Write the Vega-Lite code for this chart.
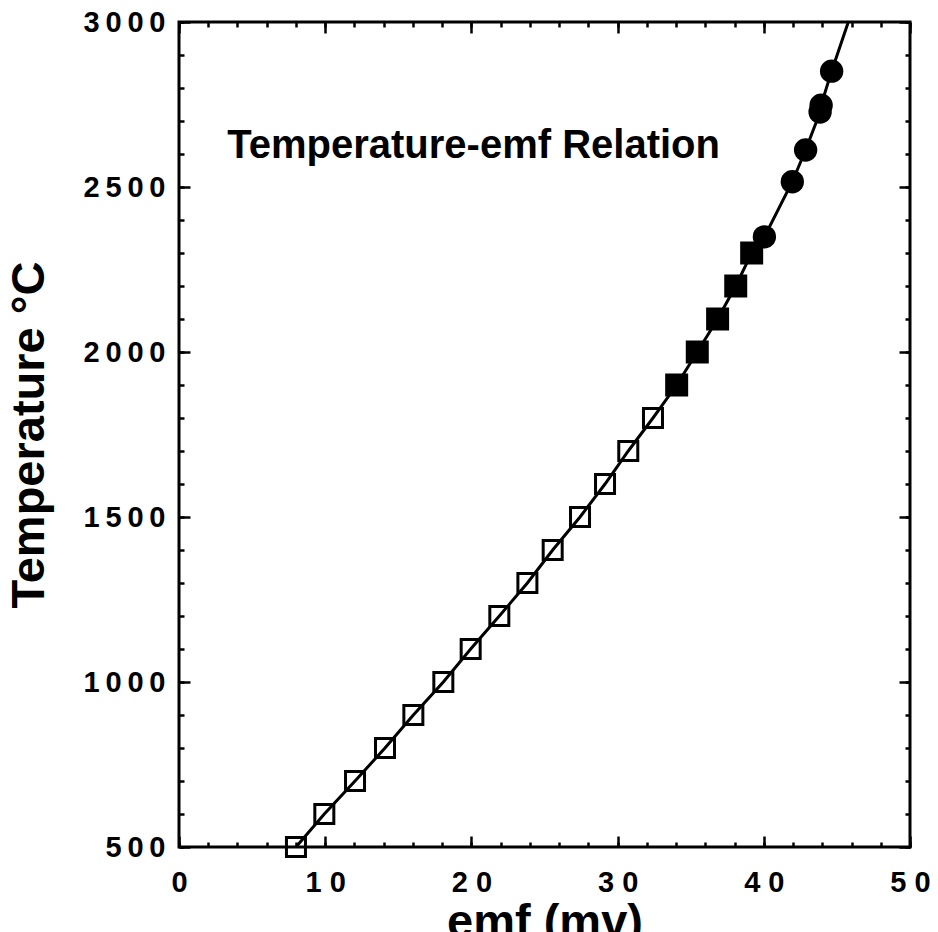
{
  "$schema": "https://vega.github.io/schema/vega-lite/v6.json",
  "autosize": {"type": "none"},
  "padding": {"left": 179, "top": 22, "right": 28, "bottom": 85},
  "width": 731,
  "height": 825,
  "background": "white",
  "config": {
    "view": {"stroke": "black", "strokeWidth": 3},
    "axis": {
      "domain": false,
      "grid": false,
      "tickColor": "black",
      "tickWidth": 2.5,
      "labelColor": "black",
      "titleColor": "black",
      "labelFont": "Liberation Sans",
      "titleFont": "Liberation Sans",
      "labelFontWeight": "bold",
      "titleFontWeight": "bold",
      "labelFontSize": 29,
      "titleFontSize": 47,
      "labelFlush": false,
      "labelOverlap": false,
      "format": "d"
    }
  },
  "datasets": {
    "points": [
      {"type": "open", "emf": 8.00, "temp": 500},
      {"type": "open", "emf": 9.94, "temp": 600},
      {"type": "open", "emf": 12.04, "temp": 700},
      {"type": "open", "emf": 14.09, "temp": 800},
      {"type": "open", "emf": 16.03, "temp": 900},
      {"type": "open", "emf": 18.08, "temp": 1000},
      {"type": "open", "emf": 19.95, "temp": 1100},
      {"type": "open", "emf": 21.91, "temp": 1200},
      {"type": "open", "emf": 23.83, "temp": 1300},
      {"type": "open", "emf": 25.56, "temp": 1400},
      {"type": "open", "emf": 27.43, "temp": 1500},
      {"type": "open", "emf": 29.14, "temp": 1600},
      {"type": "open", "emf": 30.73, "temp": 1700},
      {"type": "open", "emf": 32.42, "temp": 1800},
      {"type": "filled", "emf": 34.04, "temp": 1900},
      {"type": "filled", "emf": 35.45, "temp": 2000},
      {"type": "filled", "emf": 36.84, "temp": 2100},
      {"type": "filled", "emf": 38.08, "temp": 2200},
      {"type": "filled", "emf": 39.17, "temp": 2300},
      {"type": "circle", "emf": 40.04, "temp": 2349},
      {"type": "circle", "emf": 41.95, "temp": 2516},
      {"type": "circle", "emf": 42.86, "temp": 2612},
      {"type": "circle", "emf": 43.85, "temp": 2727},
      {"type": "circle", "emf": 43.92, "temp": 2748},
      {"type": "circle", "emf": 44.64, "temp": 2851},
      {"type": "fit", "emf": 45.78, "temp": 3000}
    ],
    "labels": [
      {"emf": 3.3, "temp": 2588, "text": "Temperature-emf Relation"}
    ]
  },
  "resolve": {"axis": {"x": "independent", "y": "independent"}},
  "layer": [
    {
      "data": {"name": "points"},
      "mark": {"type": "line", "color": "black", "strokeWidth": 3},
      "encoding": {
        "x": {"field": "emf", "type": "quantitative",
          "scale": {"domain": [0, 50], "nice": false, "zero": false},
          "axis": {"orient": "bottom", "values": [0, 10, 20, 30, 40, 50], "tickSize": -11,
            "labelPadding": 32,
            "labelExpr": "replace(datum.label, regexp('(\\\\d)(?=\\\\d)', 'g'), '$1 ')",
            "title": "emf (mv)", "titlePadding": 2}},
        "y": {"field": "temp", "type": "quantitative",
          "scale": {"domain": [500, 3000], "nice": false, "zero": false},
          "axis": {"orient": "left", "values": [500, 1000, 1500, 2000, 2500, 3000], "tickSize": -11,
            "labelPadding": 25,
            "labelExpr": "replace(datum.label, regexp('(\\\\d)(?=\\\\d)', 'g'), '$1\u2009')",
            "title": "Temperature °C", "titlePadding": 30}},
        "order": {"field": "temp", "type": "quantitative"}
      }
    },
    {
      "data": {"name": "points"},
      "transform": [{"filter": "datum.type === 'open'"}],
      "mark": {"type": "point", "shape": "square", "filled": false, "stroke": "black", "strokeWidth": 3, "size": 361, "opacity": 1},
      "encoding": {
        "x": {"field": "emf", "type": "quantitative",
          "axis": {"orient": "bottom", "values": [0, 2, 4, 6, 8, 10, 12, 14, 16, 18, 20, 22, 24, 26, 28, 30, 32, 34, 36, 38, 40, 42, 44, 46, 48, 50], "tickSize": -5, "labels": false, "title": null}},
        "y": {"field": "temp", "type": "quantitative",
          "axis": {"orient": "left", "values": [500, 600, 700, 800, 900, 1000, 1100, 1200, 1300, 1400, 1500, 1600, 1700, 1800, 1900, 2000, 2100, 2200, 2300, 2400, 2500, 2600, 2700, 2800, 2900, 3000], "tickSize": -5, "labels": false, "title": null}}
      }
    },
    {
      "data": {"name": "points"},
      "transform": [{"filter": "datum.type === 'filled'"}],
      "mark": {"type": "point", "shape": "square", "filled": true, "fill": "black", "strokeWidth": 0, "size": 529, "opacity": 1},
      "encoding": {
        "x": {"field": "emf", "type": "quantitative",
          "axis": {"orient": "top", "values": [0, 10, 20, 30, 40, 50], "tickSize": -11, "labels": false, "title": null}},
        "y": {"field": "temp", "type": "quantitative",
          "axis": {"orient": "right", "values": [500, 1000, 1500, 2000, 2500, 3000], "tickSize": -11, "labels": false, "title": null}}
      }
    },
    {
      "data": {"name": "points"},
      "transform": [{"filter": "datum.type === 'circle'"}],
      "mark": {"type": "point", "shape": "circle", "filled": true, "fill": "black", "strokeWidth": 0, "size": 545, "opacity": 1},
      "encoding": {
        "x": {"field": "emf", "type": "quantitative",
          "axis": {"orient": "top", "values": [0, 2, 4, 6, 8, 10, 12, 14, 16, 18, 20, 22, 24, 26, 28, 30, 32, 34, 36, 38, 40, 42, 44, 46, 48, 50], "tickSize": -5, "labels": false, "title": null}},
        "y": {"field": "temp", "type": "quantitative",
          "axis": {"orient": "right", "values": [500, 600, 700, 800, 900, 1000, 1100, 1200, 1300, 1400, 1500, 1600, 1700, 1800, 1900, 2000, 2100, 2200, 2300, 2400, 2500, 2600, 2700, 2800, 2900, 3000], "tickSize": -5, "labels": false, "title": null}}
      }
    },
    {
      "data": {"name": "labels"},
      "mark": {"type": "text", "align": "left", "baseline": "alphabetic", "font": "Liberation Sans", "fontWeight": "bold", "fontSize": 40, "color": "black"},
      "encoding": {
        "x": {"field": "emf", "type": "quantitative", "axis": null},
        "y": {"field": "temp", "type": "quantitative", "axis": null},
        "text": {"field": "text"}
      }
    }
  ]
}
